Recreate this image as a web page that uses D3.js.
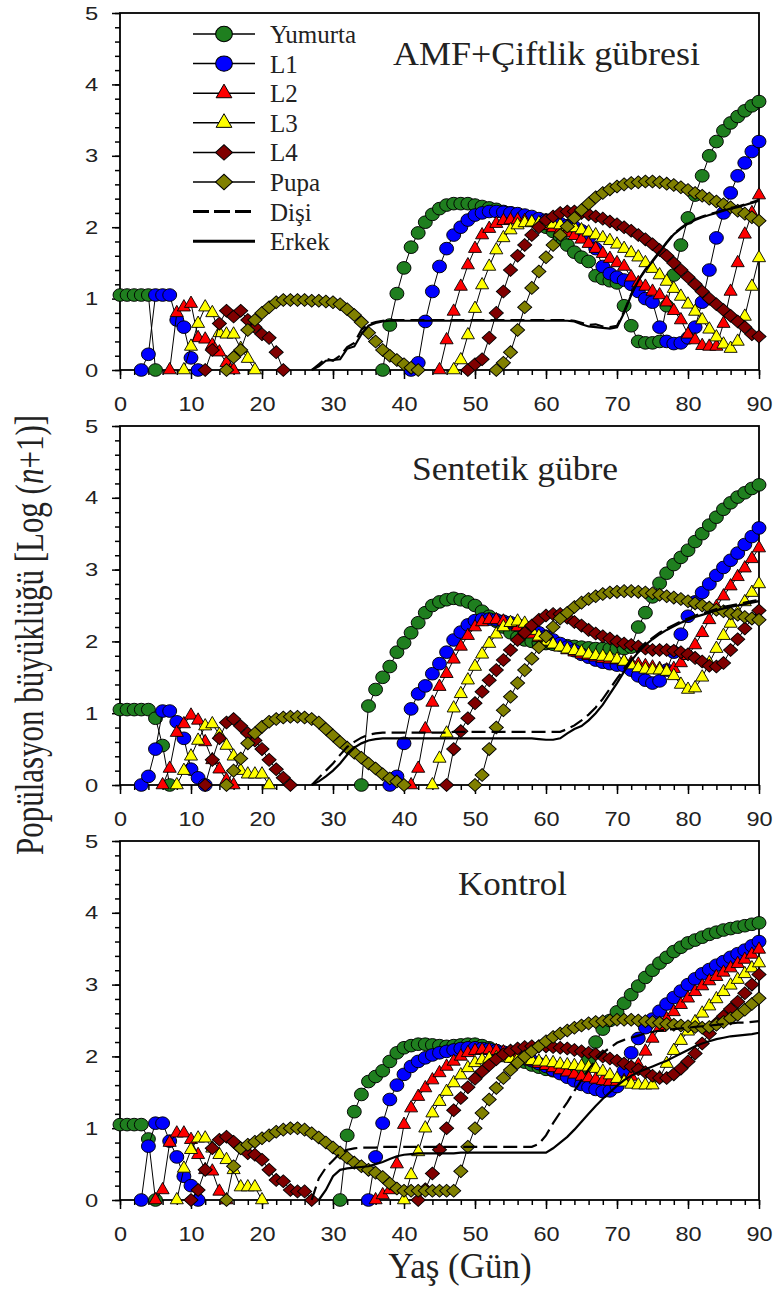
<!DOCTYPE html>
<html>
<head>
<meta charset="utf-8">
<script src="https://cdnjs.cloudflare.com/ajax/libs/d3/7.8.5/d3.min.js"></script>
<style>
  body { margin: 0; background: #fff; }
  svg { display: block; }
</style>
</head>
<body>
<div id="chart"></div>
<script>
// tick labels
const xTicks = [0, 10, 20, 30, 40, 50, 60, 70, 80, 90];
const yTicks = [0, 1, 2, 3, 4, 5];

// each series: list of [first day, daily values]  (log(n+1))
// --- AMF+Çiftlik gübresi ---
const amfYumurta = [
    [0, [1.05, 1.05, 1.05, 1.05, 1.05, 0]],
    [37, [0, 0.63, 1.07, 1.43, 1.72, 1.92, 2.07, 2.18, 2.26, 2.31,
          2.33, 2.33, 2.33, 2.31, 2.29, 2.27, 2.25, 2.22, 2.2, 2.17,
          2.14, 2.1, 2.05, 2.0, 1.94, 1.85, 1.75, 1.65, 1.58, 1.52,
          1.32, 1.28, 1.25, 1.22, 0.9, 0.62, 0.4, 0.38, 0.38, 0.4,
          0.9, 1.33, 1.75, 2.13, 2.45, 2.72, 3.0, 3.2, 3.35, 3.46,
          3.55, 3.63, 3.7, 3.76]]
];
const amfL1 = [
    [3, [0, 0.22, 1.05, 1.05, 1.05, 0.7, 0.6, 0.17, 0]],
    [41, [0, 0.1, 0.68, 1.1, 1.45, 1.7, 1.89, 2.0, 2.1, 2.17,
          2.2, 2.22, 2.22, 2.21, 2.2, 2.19, 2.17, 2.15, 2.12, 2.1,
          2.07, 2.05, 2.02, 2.0, 1.95, 1.85, 1.7, 1.45, 1.35, 1.3,
          1.26, 1.2, 1.1, 1.0, 0.95, 0.6, 0.4, 0.37, 0.38, 0.45,
          0.6, 0.95, 1.4, 1.85, 2.2, 2.48, 2.72, 2.9, 3.06, 3.2]]
];
const amfL2 = [
    [7, [0, 0.8, 0.88, 0.93, 0.45, 0.43, 0.35, 0.25, 0.1, 0]],
    [45, [0, 0.42, 0.82, 1.17, 1.47, 1.7, 1.89, 1.98, 2.05, 2.09,
          2.1, 2.1, 2.09, 2.07, 2.05, 2.02, 1.99, 1.96, 1.92, 1.88,
          1.83, 1.77, 1.7, 1.63, 1.56, 1.5, 1.45, 1.3, 1.22, 1.17,
          1.1, 1.05, 0.95, 0.83, 0.7, 0.5, 0.42, 0.34, 0.33, 0.33,
          0.65, 1.1, 1.5, 1.9, 2.2, 2.45]]
];
const amfL3 = [
    [9, [0, 0.33, 0.65, 0.88, 0.8, 0.52, 0.5, 0.5, 0.3, 0.16, 0]],
    [47, [0, 0.14, 0.49, 0.86, 1.19, 1.45, 1.68, 1.85, 1.96, 2.03,
          2.06, 2.07, 2.06, 2.05, 2.04, 2.03, 2.01, 1.99, 1.96, 1.93,
          1.89, 1.85, 1.81, 1.76, 1.7, 1.64, 1.58, 1.5, 1.42, 1.33,
          1.24, 1.14, 1.03, 0.92, 0.82, 0.7, 0.57, 0.46, 0.36, 0.3,
          0.4, 0.75, 1.17, 1.57]]
];
const amfL4 = [
    [12, [0, 0.28, 0.65, 0.83, 0.75, 0.83, 0.7, 0.6, 0.5, 0.45, 0.25, 0]],
    [49, [0, 0.08, 0.15, 0.45, 0.8, 1.1, 1.4, 1.6, 1.75, 1.89,
          2.0, 2.1, 2.15, 2.2, 2.22, 2.22, 2.2, 2.18, 2.15, 2.12,
          2.08, 2.04, 2.0, 1.95, 1.89, 1.83, 1.76, 1.68, 1.6, 1.5,
          1.4, 1.3, 1.2, 1.1, 1.0, 0.92, 0.84, 0.76, 0.68, 0.6,
          0.5, 0.47]]
];
const amfPupa = [
    [15, [0, 0.18, 0.28, 0.56, 0.7, 0.8, 0.88, 0.95, 0.98, 0.98,
          0.98, 0.98, 0.97, 0.97, 0.96, 0.95, 0.92, 0.85, 0.77, 0.67,
          0.52, 0.4, 0.28, 0.2, 0.14, 0.08, 0.03, 0]],
    [53, [0, 0.1, 0.25, 0.56, 0.88, 1.15, 1.38, 1.58, 1.75, 1.89,
          2.01, 2.13, 2.24, 2.33, 2.42, 2.48, 2.53, 2.57, 2.6, 2.62,
          2.63, 2.64, 2.64, 2.63, 2.61, 2.59, 2.56, 2.52, 2.48, 2.44,
          2.4, 2.36, 2.32, 2.28, 2.23, 2.19, 2.14, 2.09]]
];
const amfDisi = [
    [27, [0, 0.08, 0.16, 0.13, 0.2, 0.32, 0.38, 0.56, 0.64, 0.67,
          0.69, 0.7, 0.7, 0.7, 0.7, 0.7, 0.7, 0.7, 0.7, 0.7,
          0.7, 0.7, 0.7, 0.7, 0.7, 0.7, 0.7, 0.7, 0.7, 0.7,
          0.7, 0.7, 0.7, 0.7, 0.7, 0.7, 0.7, 0.69, 0.66, 0.63,
          0.64, 0.61, 0.6, 0.62, 0.82, 1.06, 1.26, 1.41, 1.53, 1.66,
          1.79, 1.91, 1.99, 2.06, 2.11, 2.15, 2.18, 2.21, 2.24, 2.27,
          2.29, 2.32, 2.35, 2.38]]
];
const amfErkek = [
    [27, [0, 0.05, 0.13, 0.14, 0.15, 0.3, 0.33, 0.5, 0.62, 0.66,
          0.68, 0.69, 0.69, 0.69, 0.69, 0.69, 0.69, 0.69, 0.69, 0.69,
          0.69, 0.69, 0.69, 0.69, 0.69, 0.69, 0.69, 0.69, 0.69, 0.69,
          0.69, 0.69, 0.69, 0.69, 0.69, 0.69, 0.69, 0.68, 0.64, 0.61,
          0.6, 0.59, 0.58, 0.6, 0.8, 1.05, 1.25, 1.4, 1.52, 1.65,
          1.78, 1.9, 1.98, 2.05, 2.1, 2.14, 2.17, 2.2, 2.23, 2.26,
          2.28, 2.31, 2.34, 2.37]]
];

// --- Sentetik gübre ---
const senYumurta = [
    [0, [1.05, 1.05, 1.05, 1.05, 1.05, 0.93, 0.55, 0]],
    [34, [0, 1.1, 1.33, 1.5, 1.65, 1.85, 1.98, 2.12, 2.26, 2.4,
          2.5, 2.55, 2.58, 2.6, 2.58, 2.55, 2.5, 2.42, 2.35, 2.28,
          2.2, 2.12, 2.06, 2.02, 2.0, 1.98, 1.97, 1.96, 1.95, 1.94,
          1.93, 1.92, 1.91, 1.9, 1.9, 1.9, 1.9, 1.9, 1.92, 2.2,
          2.4, 2.62, 2.81, 2.95, 3.07, 3.17, 3.27, 3.39, 3.5, 3.62,
          3.73, 3.84, 3.93, 4.01, 4.07, 4.13, 4.18]]
];
const senL1 = [
    [3, [0, 0.12, 0.5, 1.03, 1.03, 0.88, 0.65, 0.22, 0.1, 0]],
    [38, [0, 0.12, 0.58, 1.06, 1.27, 1.38, 1.55, 1.69, 1.85, 2.02,
          2.13, 2.23, 2.29, 2.31, 2.31, 2.3, 2.28, 2.26, 2.23, 2.2,
          2.16, 2.12, 2.07, 2.02, 1.97, 1.92, 1.87, 1.82, 1.78, 1.74,
          1.71, 1.69, 1.67, 1.66, 1.6, 1.52, 1.46, 1.42, 1.45, 1.6,
          1.85, 2.1, 2.35, 2.55, 2.68, 2.8, 2.92, 3.03, 3.13, 3.23,
          3.35, 3.46, 3.58]]
];
const senL2 = [
    [6, [0, 0.23, 0.73, 0.85, 0.97, 0.9, 0.6, 0.35, 0.22, 0.07, 0]],
    [41, [0, 0.23, 0.78, 1.15, 1.37, 1.55, 1.75, 1.93, 2.08, 2.2,
          2.27, 2.3, 2.3, 2.28, 2.25, 2.2, 2.15, 2.1, 2.05, 2.0,
          1.96, 1.92, 1.88, 1.85, 1.82, 1.8, 1.78, 1.76, 1.75, 1.74,
          1.72, 1.7, 1.68, 1.66, 1.64, 1.62, 1.6, 1.62, 1.7, 1.8,
          1.95, 2.12, 2.3, 2.48, 2.63, 2.77, 2.9, 3.02, 3.15, 3.3]]
];
const senL3 = [
    [8, [0, 0.2, 0.4, 0.62, 0.82, 0.85, 0.7, 0.55, 0.4, 0.2, 0.15, 0.15, 0.15, 0]],
    [44, [0, 0.37, 0.72, 1.07, 1.27, 1.46, 1.65, 1.82, 1.97, 2.1,
          2.2, 2.26, 2.28, 2.25, 2.15, 2.07, 2.0, 1.96, 1.92, 1.89,
          1.87, 1.85, 1.82, 1.8, 1.79, 1.78, 1.75, 1.72, 1.67, 1.63,
          1.61, 1.6, 1.6, 1.58, 1.52, 1.4, 1.33, 1.35, 1.5, 1.7,
          1.9, 2.08, 2.25, 2.4, 2.55, 2.68, 2.8]]
];
const senL4 = [
    [12, [0, 0.35, 0.65, 0.87, 0.92, 0.82, 0.72, 0.62, 0.5, 0.35, 0.22, 0.1, 0]],
    [46, [0, 0.5, 0.75, 0.93, 1.14, 1.3, 1.46, 1.6, 1.74, 1.88,
          2.02, 2.12, 2.22, 2.3, 2.36, 2.38, 2.38, 2.33, 2.27, 2.22,
          2.16, 2.11, 2.07, 2.04, 2.0, 1.97, 1.95, 1.93, 1.9, 1.88,
          1.88, 1.88, 1.87, 1.85, 1.82, 1.77, 1.72, 1.66, 1.65, 1.7,
          1.88, 2.03, 2.18, 2.32, 2.43]]
];
const senPupa = [
    [15, [0, 0.2, 0.37, 0.58, 0.72, 0.81, 0.88, 0.92, 0.94, 0.95,
          0.95, 0.94, 0.92, 0.87, 0.78, 0.69, 0.6, 0.52, 0.45, 0.38,
          0.3, 0.23, 0.15, 0.09, 0.05, 0]],
    [50, [0, 0.14, 0.5, 0.8, 1.04, 1.23, 1.42, 1.6, 1.76, 1.92,
          2.07, 2.2, 2.32, 2.4, 2.48, 2.54, 2.59, 2.63, 2.66, 2.68,
          2.69, 2.7, 2.7, 2.69, 2.68, 2.67, 2.65, 2.63, 2.61, 2.59,
          2.56, 2.53, 2.5, 2.47, 2.44, 2.42, 2.39, 2.37, 2.34, 2.32,
          2.3]]
];
const senDisi = [
    [27, [0, 0.1, 0.2, 0.3, 0.42, 0.53, 0.6, 0.66, 0.7, 0.72,
          0.73, 0.73, 0.73, 0.73, 0.73, 0.73, 0.73, 0.73, 0.73, 0.73,
          0.74, 0.74, 0.74, 0.74, 0.74, 0.74, 0.74, 0.74, 0.74, 0.74,
          0.74, 0.74, 0.74, 0.74, 0.74, 0.74, 0.78, 0.83, 0.9, 0.98,
          1.08, 1.2, 1.34, 1.48, 1.62, 1.75, 1.87, 1.97, 2.05, 2.12,
          2.18, 2.23, 2.28, 2.32, 2.36, 2.39, 2.42, 2.45, 2.48, 2.5,
          2.52, 2.54, 2.56, 2.58]]
];
const senErkek = [
    [27, [0, 0.05, 0.12, 0.2, 0.3, 0.42, 0.52, 0.58, 0.62, 0.64,
          0.65, 0.65, 0.65, 0.65, 0.65, 0.65, 0.65, 0.65, 0.65, 0.65,
          0.65, 0.65, 0.65, 0.65, 0.65, 0.65, 0.65, 0.65, 0.65, 0.65,
          0.65, 0.65, 0.64, 0.63, 0.63, 0.65, 0.72, 0.78, 0.82, 0.9,
          1.0, 1.12, 1.27, 1.42, 1.58, 1.73, 1.85, 1.95, 2.03, 2.1,
          2.16, 2.21, 2.26, 2.3, 2.34, 2.37, 2.4, 2.43, 2.46, 2.48,
          2.5, 2.52, 2.54, 2.56]]
];

// --- Kontrol ---
const konYumurta = [
    [0, [1.05, 1.05, 1.05, 1.05, 0.85, 0]],
    [31, [0, 0.9, 1.23, 1.47, 1.65, 1.72, 1.8, 1.93, 2.05, 2.12,
          2.15, 2.17, 2.17, 2.16, 2.15, 2.14, 2.15, 2.16, 2.17, 2.17,
          2.15, 2.12, 2.08, 2.04, 2.0, 1.96, 1.92, 1.88, 1.85, 1.82,
          1.8, 1.78, 1.77, 1.77, 1.8, 1.95, 2.2, 2.38, 2.5, 2.62,
          2.74, 2.86, 2.98, 3.1, 3.2, 3.3, 3.38, 3.46, 3.52, 3.58,
          3.62, 3.66, 3.7, 3.73, 3.76, 3.78, 3.8, 3.82, 3.84, 3.86]]
];
const konL1 = [
    [3, [0, 0.75, 1.07, 1.07, 0.82, 0.6, 0.33, 0.2, 0]],
    [35, [0, 0.6, 1.07, 1.4, 1.6, 1.75, 1.86, 1.93, 1.98, 2.02,
          2.05, 2.07, 2.09, 2.11, 2.12, 2.12, 2.11, 2.1, 2.08, 2.06,
          2.03, 2.0, 1.97, 1.94, 1.9, 1.86, 1.81, 1.76, 1.71, 1.66,
          1.61, 1.57, 1.54, 1.51, 1.52, 1.58, 1.8, 2.05, 2.25, 2.4,
          2.52, 2.63, 2.73, 2.82, 2.91, 3.0, 3.08, 3.15, 3.21, 3.27,
          3.32, 3.38, 3.43, 3.48, 3.54, 3.6]]
];
const konL2 = [
    [5, [0, 0.14, 0.8, 0.93, 0.93, 0.84, 0.63, 0.42, 0.4, 0.12, 0]],
    [36, [0, 0.07, 0.14, 0.5, 1.05, 1.28, 1.44, 1.56, 1.67, 1.77,
          1.86, 1.93, 2.0, 2.05, 2.08, 2.09, 2.09, 2.08, 2.06, 2.03,
          2.0, 1.97, 1.93, 1.9, 1.87, 1.84, 1.81, 1.78, 1.75, 1.72,
          1.7, 1.68, 1.66, 1.65, 1.65, 1.66, 1.72, 1.88, 2.07, 2.25,
          2.4, 2.52, 2.62, 2.72, 2.81, 2.9, 2.98, 3.05, 3.11, 3.17,
          3.23, 3.29, 3.35, 3.42, 3.49]]
];
const konL3 = [
    [8, [0, 0.44, 0.7, 0.86, 0.86, 0.72, 0.63, 0.56, 0.42, 0.18, 0.18, 0.18, 0]],
    [40, [0, 0.35, 0.67, 1.0, 1.21, 1.37, 1.51, 1.63, 1.74, 1.84,
          1.91, 1.95, 1.97, 1.98, 1.98, 1.97, 1.96, 1.95, 1.94, 1.93,
          1.92, 1.91, 1.89, 1.88, 1.87, 1.86, 1.85, 1.83, 1.79, 1.74,
          1.69, 1.64, 1.61, 1.6, 1.6, 1.6, 1.7, 1.9, 2.08, 2.22,
          2.35, 2.48, 2.6, 2.7, 2.8, 2.9, 2.99, 3.07, 3.15, 3.23,
          3.3]]
];
const konL4 = [
    [10, [0, 0.14, 0.42, 0.72, 0.84, 0.88, 0.81, 0.72, 0.65, 0.63,
          0.56, 0.42, 0.28, 0.26, 0.14, 0.12, 0.12, 0]],
    [42, [0, 0.15, 0.37, 0.7, 1.0, 1.25, 1.42, 1.57, 1.69, 1.79,
          1.88, 1.96, 2.03, 2.08, 2.11, 2.13, 2.14, 2.14, 2.14, 2.13,
          2.12, 2.11, 2.09, 2.07, 2.05, 2.03, 2.0, 1.97, 1.94, 1.9,
          1.86, 1.82, 1.78, 1.73, 1.7, 1.7, 1.75, 1.83, 1.93, 2.04,
          2.18, 2.32, 2.46, 2.56, 2.66, 2.76, 2.88, 3.0, 3.14]]
];
const konPupa = [
    [15, [0, 0.47, 0.72, 0.77, 0.81, 0.86, 0.9, 0.95, 0.98, 1.0,
          1.0, 0.98, 0.93, 0.87, 0.8, 0.73, 0.66, 0.59, 0.52, 0.47,
          0.42, 0.38, 0.32, 0.23, 0.16, 0.13, 0.13, 0.13, 0.13, 0.13,
          0.13, 0.13, 0.13, 0.4, 0.74, 1.0, 1.21, 1.4, 1.56, 1.7,
          1.81, 1.91, 2.0, 2.07, 2.14, 2.21, 2.27, 2.32, 2.36, 2.4,
          2.43, 2.46, 2.48, 2.49, 2.5, 2.51, 2.51, 2.51, 2.5, 2.49,
          2.48, 2.47, 2.45, 2.44, 2.43, 2.42, 2.41, 2.4, 2.41, 2.44,
          2.48, 2.53, 2.58, 2.65, 2.73, 2.81]]
];
const konDisi = [
    [27, [0, 0.3, 0.45, 0.55, 0.65, 0.7, 0.72, 0.73, 0.73, 0.73,
          0.74, 0.74, 0.74, 0.74, 0.74, 0.74, 0.74, 0.74, 0.74, 0.74,
          0.74, 0.74, 0.74, 0.74, 0.74, 0.74, 0.74, 0.74, 0.74, 0.74,
          0.74, 0.74, 0.78, 0.9, 1.07, 1.22, 1.36, 1.52, 1.67, 1.82,
          1.95, 2.05, 2.12, 2.19, 2.23, 2.26, 2.29, 2.32, 2.34, 2.36,
          2.37, 2.38, 2.39, 2.4, 2.41, 2.42, 2.43, 2.44, 2.45, 2.46,
          2.47, 2.47, 2.48, 2.49]]
];
const konErkek = [
    [28, [0, 0.14, 0.33, 0.42, 0.44, 0.45, 0.46, 0.47, 0.5, 0.53,
          0.57, 0.61, 0.63, 0.64, 0.65, 0.65, 0.65, 0.65, 0.65, 0.65,
          0.66, 0.66, 0.66, 0.66, 0.66, 0.66, 0.66, 0.66, 0.66, 0.66,
          0.66, 0.66, 0.66, 0.72, 0.8, 0.88, 0.98, 1.09, 1.2, 1.31,
          1.41, 1.5, 1.59, 1.67, 1.73, 1.78, 1.82, 1.86, 1.9, 1.94,
          1.99, 2.04, 2.09, 2.14, 2.18, 2.21, 2.24, 2.26, 2.28, 2.29,
          2.3, 2.31, 2.33]]
];

const stages = [
    { name: "Yumurta", color: "#1f7f1f", shape: "circle" },
    { name: "L1", color: "#0000ff", shape: "circle" },
    { name: "L2", color: "#ff0000", shape: "triangle" },
    { name: "L3", color: "#ffff00", shape: "triangle" },
    { name: "L4", color: "#800000", shape: "diamond" },
    { name: "Pupa", color: "#808000", shape: "diamond" }
];

const panels = [
    { title: "AMF+Çiftlik gübresi", stages: [amfYumurta, amfL1, amfL2, amfL3, amfL4, amfPupa], disi: amfDisi, erkek: amfErkek },
    { title: "Sentetik gübre", stages: [senYumurta, senL1, senL2, senL3, senL4, senPupa], disi: senDisi, erkek: senErkek },
    { title: "Kontrol", stages: [konYumurta, konL1, konL2, konL3, konL4, konPupa], disi: konDisi, erkek: konErkek }
];

const layout = [
    { top: 13, bottom: 370, titleX: 393, titleY: 65, titleLen: 307 },
    { top: 426, bottom: 785, titleX: 412, titleY: 480, titleLen: 206 },
    { top: 841, bottom: 1200, titleX: 458, titleY: 895, titleLen: 109 }
];

const serif = "'Times New Roman', 'Liberation Serif', serif";
const sans = "Arial, 'Liberation Sans', sans-serif";

function toRuns(segments) {
    return segments.map(([start, values]) => values.map((v, i) => ({ day: start + i, value: v })));
}

function symbolPath(shape, big) {
    const k = big ? 1.45 : 1;
    if (shape === "circle") return d3.symbol(d3.symbolCircle, 126 * k)();
    if (shape === "triangle") return d3.symbol(d3.symbolTriangle, 74 * k)();
    return d3.symbol(d3.symbolSquare, 82 * k)();
}

function markerTransform(shape, px, py) {
    const sx = shape === "triangle" ? 1.0 : 1.1;
    return "translate(" + px + "," + py + ") scale(" + sx + ",1)" + (shape === "diamond" ? " rotate(45)" : "");
}

class StagePanel {
    constructor(svg, panel, box) {
        this.svg = svg;
        this.panel = panel;
        this.box = box;
        this.left = 120;
        this.right = 759;
    }

    renderAxes(g, x, y) {
        // x axis: majors every 10, minors every 2
        const xMinor = g.append("g")
            .attr("transform", "translate(0," + this.box.bottom + ")")
            .call(d3.axisBottom(x).tickValues(d3.range(0, 91, 2)).tickSize(5).tickFormat(""));
        xMinor.select(".domain").remove();

        const xAxis = g.append("g")
            .attr("transform", "translate(0," + this.box.bottom + ")")
            .call(d3.axisBottom(x).tickValues(xTicks).tickSize(9).tickPadding(17).tickSizeOuter(0));
        xAxis.select(".domain").remove();
        xAxis.selectAll("text")
            .style("font-family", sans)
            .style("font-size", "21px")
            .attr("fill", "#222")
            .attr("transform", "scale(1.12,1)");

        const yMinor = g.append("g")
            .attr("transform", "translate(" + this.left + ",0)")
            .call(d3.axisLeft(y).tickValues(d3.range(0, 5.01, 0.2)).tickSize(5).tickFormat(""));
        yMinor.select(".domain").remove();

        const yAxis = g.append("g")
            .attr("transform", "translate(" + this.left + ",0)")
            .call(d3.axisLeft(y).tickValues(yTicks).tickFormat(d3.format("d")).tickSize(8).tickSizeOuter(0));
        yAxis.select(".domain").remove();
        yAxis.selectAll("text")
            .style("font-family", sans)
            .style("font-size", "19px")
            .attr("fill", "#222")
            .attr("x", -17.5)
            .attr("transform", "scale(1.25,1)");

        g.selectAll(".tick line").attr("stroke", "#000").attr("stroke-width", 1.5);

        // frame
        g.append("rect")
            .attr("x", this.left)
            .attr("y", this.box.top)
            .attr("width", this.right - this.left)
            .attr("height", this.box.bottom - this.box.top)
            .attr("fill", "none")
            .attr("stroke", "#000")
            .attr("stroke-width", 1.8);
    }

    renderStage(g, stage, segments, x, y) {
        const runs = toRuns(segments);
        const line = d3.line().x(d => x(d.day)).y(d => y(d.value));
        const sg = g.append("g");
        sg.selectAll("path.link")
            .data(runs)
            .enter()
            .append("path")
            .attr("class", "link")
            .attr("d", line)
            .attr("fill", "none")
            .attr("stroke", "#000")
            .attr("stroke-width", 1);
        sg.selectAll("path.mark")
            .data(runs.flat())
            .enter()
            .append("path")
            .attr("class", "mark")
            .attr("d", symbolPath(stage.shape))
            .attr("transform", d => markerTransform(stage.shape, x(d.day), y(d.value)))
            .attr("fill", stage.color)
            .attr("stroke", "#000")
            .attr("stroke-width", 0.9);
    }

    renderAdult(g, segments, x, y, dashed) {
        const line = d3.line().x(d => x(d.day)).y(d => y(d.value));
        g.append("g").selectAll("path")
            .data(toRuns(segments))
            .enter()
            .append("path")
            .attr("d", line)
            .attr("fill", "none")
            .attr("stroke", "#000")
            .attr("stroke-width", 2.2)
            .attr("stroke-dasharray", dashed ? "14,6" : null);
    }

    build() {
        const g = this.svg.append("g");
        const x = d3.scaleLinear().domain([0, 90]).range([this.left, this.right]);
        const y = d3.scaleLinear().domain([0, 5]).range([this.box.bottom, this.box.top]);

        this.renderAxes(g, x, y);

        stages.forEach((stage, i) => this.renderStage(g, stage, this.panel.stages[i], x, y));
        this.renderAdult(g, this.panel.disi, x, y, true);
        this.renderAdult(g, this.panel.erkek, x, y, false);

        g.append("text")
            .attr("x", this.box.titleX)
            .attr("y", this.box.titleY)
            .attr("textLength", this.box.titleLen)
            .attr("lengthAdjust", "spacingAndGlyphs")
            .style("font-family", serif)
            .style("font-size", "34px")
            .attr("fill", "#222")
            .text(this.panel.title);
    }
}

function renderLegend(svg) {
    const entries = stages.map(s => ({ name: s.name, stage: s }))
        .concat([{ name: "Dişi", dash: true }, { name: "Erkek", dash: false }]);
    const row = svg.append("g").selectAll("g")
        .data(entries)
        .enter()
        .append("g")
        .attr("transform", (_, i) => "translate(0," + (34 + i * 29.6) + ")");

    row.append("line")
        .attr("x1", 193).attr("x2", 255)
        .attr("stroke", "#000")
        .attr("stroke-width", d => d.stage ? 1.5 : 3)
        .attr("stroke-dasharray", d => d.dash ? "16,5" : null);

    row.filter(d => d.stage)
        .append("path")
        .attr("d", d => symbolPath(d.stage.shape, true))
        .attr("transform", d => markerTransform(d.stage.shape, 224, 0))
        .attr("fill", d => d.stage.color)
        .attr("stroke", "#000")
        .attr("stroke-width", 1);

    row.append("text")
        .attr("x", 270)
        .attr("y", 9)
        .style("font-family", serif)
        .style("font-size", "25px")
        .attr("fill", "#222")
        .text(d => d.name);
}

const svg = d3.select("#chart")
    .append("svg")
    .attr("width", 774)
    .attr("height", 1293);

panels.forEach((p, i) => new StagePanel(svg, p, layout[i]).build());
renderLegend(svg);

// axis titles
const yTitle = svg.append("text")
    .attr("transform", "translate(43,635) scale(1.3,1) rotate(-90)")
    .attr("text-anchor", "middle")
    .style("font-family", serif)
    .style("font-size", "31px")
    .attr("fill", "#222");
yTitle.append("tspan").text("Popülasyon büyüklüğü [Log (");
yTitle.append("tspan").style("font-style", "italic").text("n");
yTitle.append("tspan").text("+1)]");

svg.append("text")
    .attr("x", 460)
    .attr("y", 1278)
    .attr("text-anchor", "middle")
    .style("font-family", serif)
    .style("font-size", "35px")
    .attr("fill", "#222")
    .text("Yaş (Gün)");
</script>
</body>
</html>
